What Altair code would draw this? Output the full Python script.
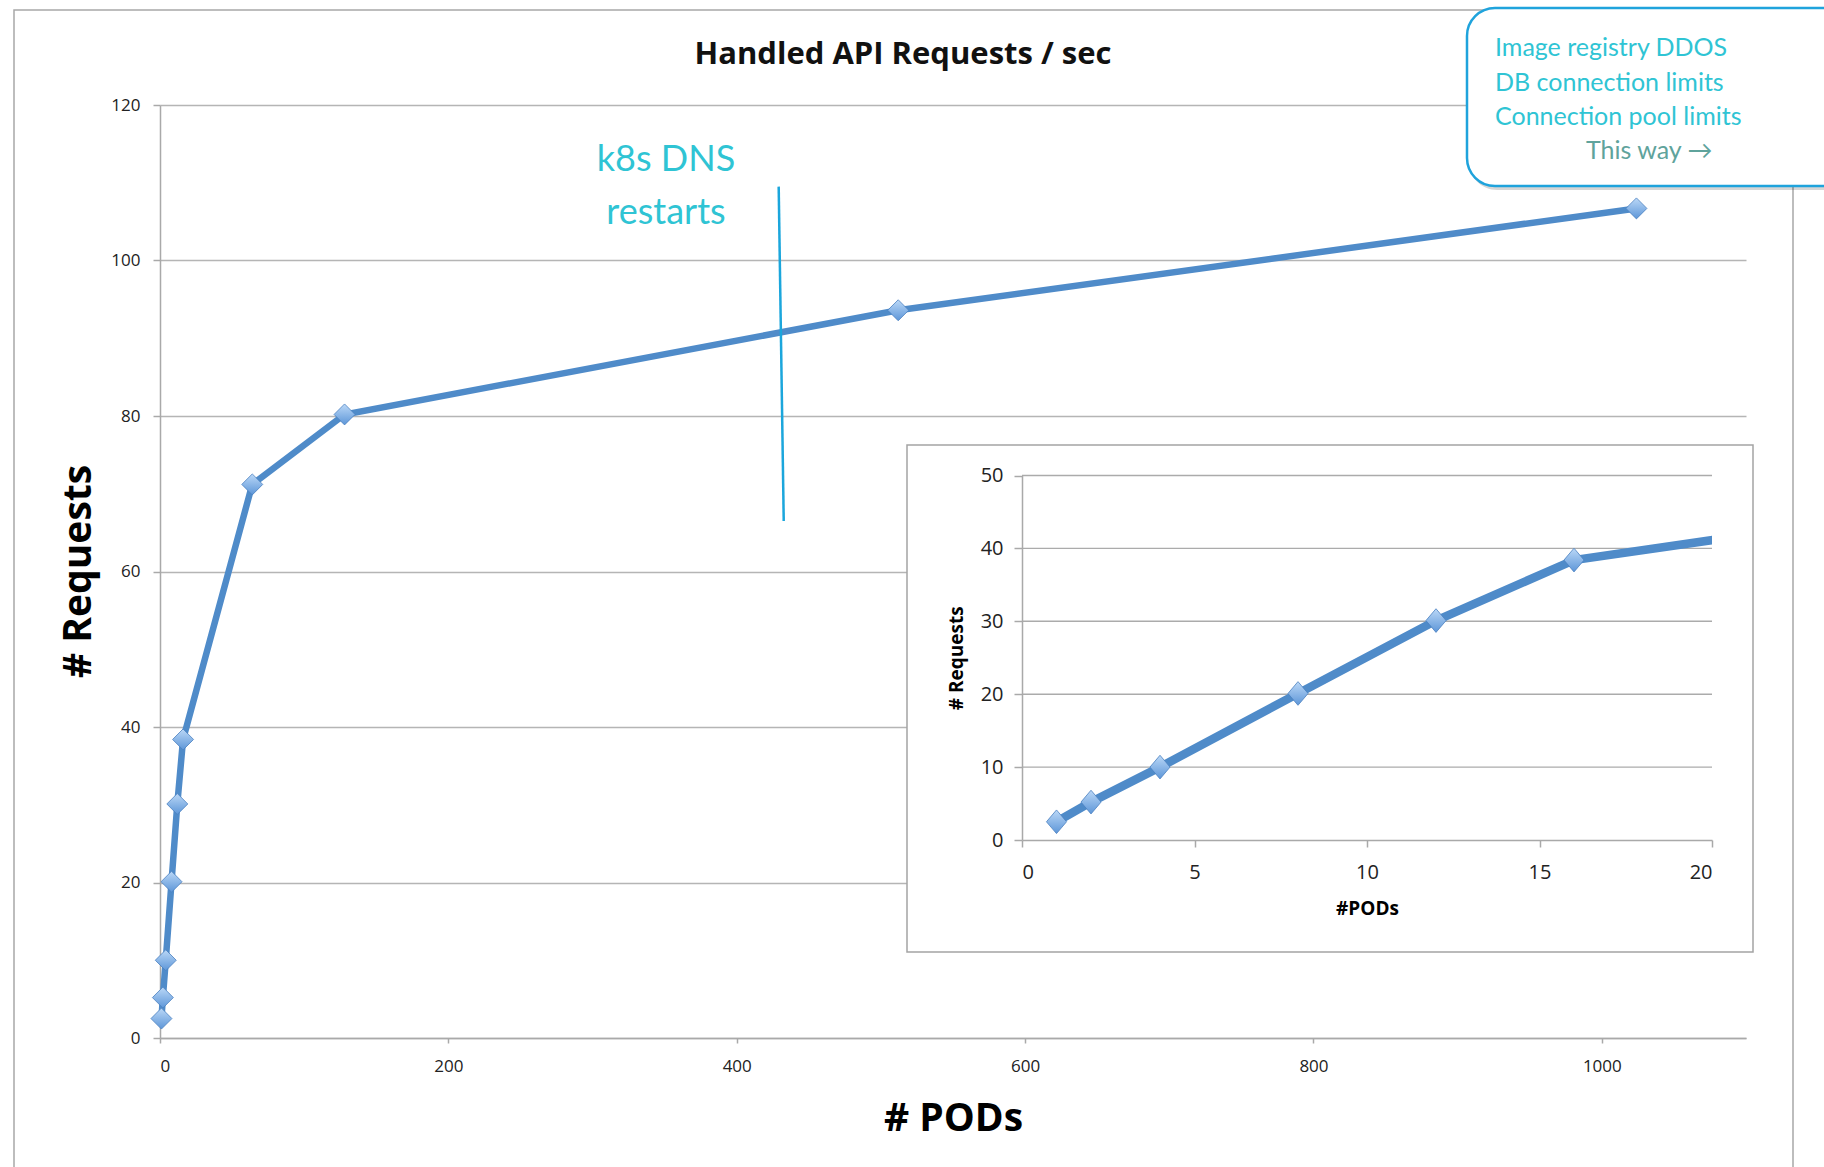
import altair as alt
import pandas as pd

# ---------------- data ----------------
pods = [1, 2, 4, 8, 12, 16, 64, 128, 512, 1024]
requests = [2.5, 5.2, 10.0, 20.1, 30.1, 38.4, 71.2, 80.2, 93.6, 106.7]

main_x_ticks = [0, 200, 400, 600, 800, 1000]
main_y_ticks = [0, 20, 40, 60, 80, 100, 120]
inset_x_ticks = [0, 5, 10, 15, 20]
inset_y_ticks = [0, 10, 20, 30, 40, 50]
inset_grid_values = [10, 20, 30, 40, 50]

dns_line_pods = [429.1, 432.6]
dns_line_requests = [109.5, 66.5]

title_text = "Handled API Requests / sec"
dns_lines = ["k8s DNS", "restarts"]
callout_lines = ["Image registry DDOS", "DB connection limits", "Connection pool limits"]
callout_footer = "This way \u2192"

df = pd.DataFrame({"pods": pods, "requests": requests})
dns_df = pd.DataFrame({
    "pods": [dns_line_pods[0]], "requests": [dns_line_requests[0]],
    "pods2": [dns_line_pods[1]], "requests2": [dns_line_requests[1]],
})
grid_df = pd.DataFrame({"requests": inset_grid_values})
one = pd.DataFrame({"k": [0]})

# ---------------- styles ----------------
LINE = "#4F8BC9"
GRAY = "#A9A9A9"
TEAL = "#2FC4D4"
diamond_fill = alt.LinearGradient(
    gradient="linear",
    stops=[alt.GradientStop(color="#BBD8F7", offset=0),
           alt.GradientStop(color="#5D96D8", offset=1)],
    x1=0, y1=0, x2=0, y2=1,
)

PAD_L, PAD_T = 160, 105
INSET_X0, INSET_X1 = 1022 - PAD_L, 1712 - PAD_L     # inset plot, relative px
INSET_Y0, INSET_Y50 = 840 - PAD_T, 475.5 - PAD_T
W = INSET_X1      # group width = right edge of inset plot (clip edge)
MAIN_W = 1586     # main x range
H = 933

# ---------------- main chart ----------------
main_x = alt.X(
    "pods:Q",
    scale=alt.Scale(domain=[0, 1100], range=[0, MAIN_W], nice=False, zero=False),
    axis=alt.Axis(
        orient="bottom", values=main_x_ticks, grid=False, format="d",
        domainColor=GRAY, domainWidth=1.5, tickColor=GRAY, tickWidth=1.5, tickSize=5,
        labelFont="Open Sans", labelFontSize=17, labelColor="#222", labelPadding=15,
        title="# PODs", titleFont="Open Sans", titleFontSize=39, titleFontWeight="bold",
        titleColor="#000", titleX=793, titleY=80, titleBaseline="middle", titleAlign="center",
    ),
)
main_y = alt.Y(
    "requests:Q",
    scale=alt.Scale(domain=[0, 120], nice=False),
    axis=alt.Axis(
        orient="left", values=main_y_ticks, grid=True, gridColor="#B5B5B5", gridWidth=1.4,
        domainColor=GRAY, domainWidth=1.5, tickColor=GRAY, tickWidth=1.5, tickSize=7,
        labelFont="Open Sans", labelFontSize=17, labelColor="#222", labelPadding=13,
        title="# Requests", titleFont="Open Sans", titleFontSize=39, titleFontWeight="bold",
        titleColor="#000", titleX=-82, titleY=466, titleAngle=-90,
        titleBaseline="middle", titleAlign="center",
    ),
)

main_line = alt.Chart(df).mark_line(color=LINE, strokeWidth=6.5).encode(x=main_x, y=main_y)
main_pts = alt.Chart(df).mark_point(
    shape="diamond", size=440, filled=True, fill=diamond_fill, stroke="#4A80C0",
    strokeWidth=0.8, opacity=1,
).encode(x="pods:Q", y="requests:Q")
dns_rule = alt.Chart(dns_df).mark_rule(color="#1BA6DC", strokeWidth=2.5).encode(
    x="pods:Q", y="requests:Q", x2="pods2:Q", y2="requests2:Q"
)
main_layer = alt.layer(main_line, main_pts, dns_rule)

# ---------------- inset chart ----------------
inset_x = alt.X(
    "pods:Q",
    scale=alt.Scale(domain=[0, 20], range=[INSET_X0, INSET_X1], nice=False, zero=False),
    axis=alt.Axis(
        orient="bottom", offset=INSET_Y0 - H, values=inset_x_ticks, grid=False, zindex=1,
        format="d",
        domainColor=GRAY, domainWidth=1.5, tickColor=GRAY, tickWidth=1.5, tickSize=7,
        labelFont="Open Sans", labelFontSize=20, labelColor="#222", labelPadding=15,
        title="#PODs", titleFont="Open Sans", titleFontSize=19,
        titleFontWeight="bold", titleColor="#000",
        titleX=(INSET_X0 + INSET_X1) / 2, titleY=68,
        titleBaseline="middle", titleAlign="center",
    ),
)
inset_y = alt.Y(
    "requests:Q",
    scale=alt.Scale(domain=[0, 50], range=[INSET_Y0, INSET_Y50], nice=False),
    axis=alt.Axis(
        orient="left", offset=-INSET_X0, values=inset_y_ticks, grid=False, zindex=1,
        domainColor=GRAY, domainWidth=1.5, tickColor=GRAY, tickWidth=1.5, tickSize=8,
        labelFont="Open Sans", labelFontSize=20, labelColor="#222", labelPadding=11,
        title="# Requests", titleFont="Open Sans", titleFontSize=19, titleFontWeight="bold",
        titleColor="#000", titleX=-66, titleY=(INSET_Y0 + INSET_Y50) / 2, titleAngle=-90,
        titleBaseline="middle", titleAlign="center",
    ),
)
inset_grid = alt.Chart(grid_df).mark_rule(color="#ABABAB", strokeWidth=1.4).encode(
    y="requests:Q", x=alt.datum(0), x2=alt.datum(20)
)
inset_line = alt.Chart(df).mark_line(color=LINE, strokeWidth=8.5, clip=True).encode(
    x=inset_x, y=inset_y
)
inset_pts = alt.Chart(df).mark_point(
    shape="M-0.85,0L0,-1L0.85,0L0,1Z", size=560, filled=True, fill=diamond_fill,
    stroke="#4A80C0", strokeWidth=0.8, opacity=1, clip=True,
).encode(x="pods:Q", y="requests:Q")
inset_layer = alt.layer(inset_grid, inset_line, inset_pts)

# ---------------- decorations ----------------
def vx(a):
    return alt.value(a - PAD_L)

def vy(a):
    return alt.value(a - PAD_T)

frame = alt.Chart(one).mark_rect(fillOpacity=0, stroke="#A8A8A8", strokeWidth=1.5).encode(
    x=vx(14), x2=vx(1793), y=vy(10), y2=vy(1200)
)
inset_box = alt.Chart(one).mark_rect(fill="white", stroke="#A4A4A4", strokeWidth=1.5).encode(
    x=vx(907), x2=vx(1753), y=vy(445), y2=vy(952)
)

dns_texts = [
    alt.Chart(one).mark_text(
        text=t, font="Lato", fontSize=36, color=TEAL, align="center", baseline="middle"
    ).encode(x=vx(666), y=vy(160 + 53 * i))
    for i, t in enumerate(dns_lines)
]

callout_shadow = alt.Chart(one).mark_rect(
    fill="#000000", fillOpacity=0.16, cornerRadius=28
).encode(x=vx(1469), x2=vx(1870), y=vy(12), y2=vy(190))
callout = alt.Chart(one).mark_rect(
    fill="white", stroke="#1FA3DC", strokeWidth=2.5, cornerRadius=28
).encode(x=vx(1467), x2=vx(1866), y=vy(8), y2=vy(186))
callout_texts = [
    alt.Chart(one).mark_text(
        text=t, font="Lato", fontSize=25, color=TEAL, align="left", baseline="middle"
    ).encode(x=vx(1495), y=vy(48 + 34.5 * i))
    for i, t in enumerate(callout_lines)
]
callout_foot = alt.Chart(one).mark_text(
    text=callout_footer, font="Lato", fontSize=25, color="#5FA39C", align="left",
    baseline="middle",
).encode(x=vx(1586), y=vy(151))

title = alt.Chart(one).mark_text(
    text=title_text, font="Open Sans", fontSize=31, fontWeight="bold", color="#111",
    align="center", baseline="middle",
).encode(x=vx(903), y=vy(55))

chart = alt.layer(
    frame, main_layer, *dns_texts, inset_box, inset_layer,
    callout_shadow, callout, *callout_texts, callout_foot, title,
).resolve_scale(x="independent", y="independent").properties(
    width=W, height=H,
    padding={"left": PAD_L, "top": PAD_T, "right": 1824 - PAD_L - W, "bottom": 1167 - PAD_T - H},
    autosize=alt.AutoSizeParams(type="none"),
    background="white",
).configure_view(strokeWidth=0)

chart.save("out.html", embed_options={"renderer": "svg", "actions": False})
